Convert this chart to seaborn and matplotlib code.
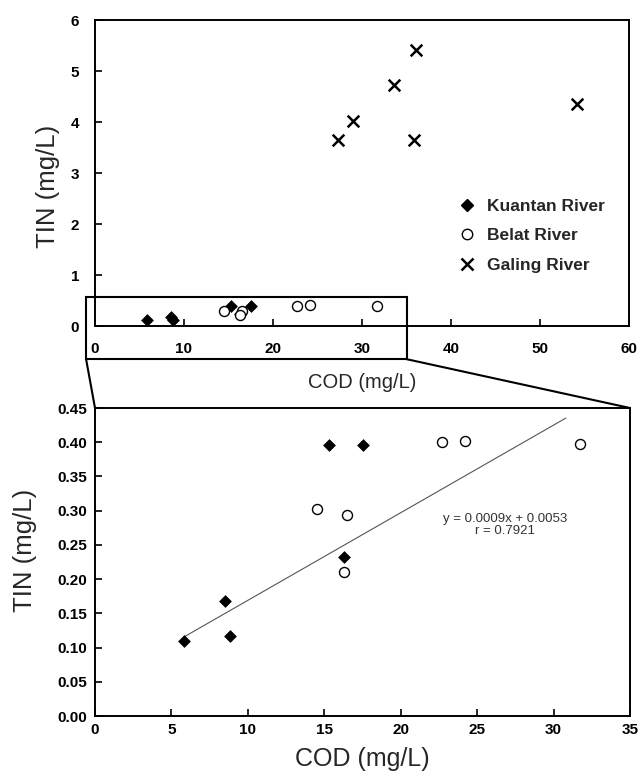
import numpy as np
import pandas as pd
import matplotlib
matplotlib.use('Agg')
import matplotlib.pyplot as plt
import seaborn as sns
from matplotlib.lines import Line2D
from matplotlib.patches import Rectangle, ConnectionPatch

# data (COD vs TIN, mg/L)
kuantan_cod = [5.8, 8.5, 8.8, 15.3, 17.5, 16.3]
kuantan_tin = [0.110, 0.168, 0.117, 0.396, 0.396, 0.232]
belat_cod = [14.5, 16.5, 16.3, 22.7, 24.2, 31.7]
belat_tin = [0.303, 0.294, 0.210, 0.401, 0.402, 0.398]
galing_cod = [27.3, 29.0, 33.6, 36.1, 35.8, 54.2]
galing_tin = [3.65, 4.02, 4.72, 5.42, 3.65, 4.35]

rivers = ['Kuantan River', 'Belat River', 'Galing River']

# trend line as drawn in the inset (slope / intercept / x range)
trend_slope = 0.0128
trend_intercept = 0.041
trend_x = [5.8, 30.8]
trend_label = 'y = 0.0009x + 0.0053\nr = 0.7921'

df = pd.concat([
    pd.DataFrame({'COD': kuantan_cod, 'TIN': kuantan_tin, 'River': rivers[0]}),
    pd.DataFrame({'COD': belat_cod, 'TIN': belat_tin, 'River': rivers[1]}),
    pd.DataFrame({'COD': galing_cod, 'TIN': galing_tin, 'River': rivers[2]}),
], ignore_index=True)

sns.set_theme(style='ticks')
plt.rcParams['font.family'] = ['Liberation Sans', 'DejaVu Sans']

styles = {
    'Kuantan River': dict(marker='D', s=36, color='black', edgecolor='black', linewidth=0.5),
    'Belat River': dict(marker='o', s=52, facecolor='white', edgecolor='black', linewidth=1.0),
    'Galing River': dict(marker='x', s=70, color='black', linewidth=1.8),
}

W, H = 643, 771
fig = plt.figure(figsize=(W / 100, H / 100), dpi=100)
ax_top = fig.add_axes([95 / W, 1 - 326 / H, 534 / W, 306 / H])
ax_bot = fig.add_axes([95 / W, 1 - 716 / H, 535 / W, 308 / H])


def draw_points(ax, data):
    for river in rivers:
        sub = data[data['River'] == river]
        if len(sub) == 0:
            continue
        sns.scatterplot(data=sub, x='COD', y='TIN', ax=ax, legend=False,
                        clip_on=False, zorder=3, **styles[river])


def style_axes(ax, pad_x, pad_y):
    for sp in ax.spines.values():
        sp.set_visible(True)
        sp.set_linewidth(1.4)
        sp.set_color('black')
    ax.tick_params(direction='in', length=5, width=1.2, colors='black',
                   labelsize=11, top=False, right=False)
    ax.tick_params(axis='x', pad=pad_x)
    ax.tick_params(axis='y', pad=pad_y)
    for lab in ax.get_xticklabels() + ax.get_yticklabels():
        lab.set_fontweight('bold')


# top panel: all three rivers
draw_points(ax_top, df)
ax_top.set_xlim(0, 60)
ax_top.set_ylim(0, 6)
ax_top.set_xticks(np.arange(0, 61, 10))
ax_top.set_yticks(np.arange(0, 7, 1))
ax_top.set_xlabel('COD (mg/L)', fontsize=14.5, labelpad=12)
ax_top.set_ylabel('TIN (mg/L)', fontsize=18.5)
ax_top.yaxis.set_label_coords(-0.066, 0.457)
style_axes(ax_top, 11.5, 11.5)

handles = [Line2D([], [], linestyle='none', marker='D', markersize=6.5,
                  color='black'),
           Line2D([], [], linestyle='none', marker='o', markersize=7.5,
                  markerfacecolor='white', markeredgecolor='black', markeredgewidth=1.0),
           Line2D([], [], linestyle='none', marker='x', markersize=8.5,
                  color='black', markeredgewidth=1.8)]
ax_top.legend(handles, rivers, loc='center left', bbox_to_anchor=(0.68, 0.295),
              frameon=False, prop={'weight': 'bold', 'size': 12.5},
              handlelength=1.0, handletextpad=0.65, labelspacing=0.82,
              borderpad=0, borderaxespad=0)

# zoom rectangle around the low-TIN region
rect = Rectangle((-1, -0.65), 36, 1.22, transform=ax_top.transData, fill=False,
                 edgecolor='black', linewidth=1.5, clip_on=False, zorder=5)
ax_top.add_patch(rect)

# bottom panel: Kuantan and Belat only
low = df[df['River'] != 'Galing River']
draw_points(ax_bot, low)
xs = np.array(trend_x)
ax_bot.plot(xs, trend_slope * xs + trend_intercept, color='#555555', linewidth=0.8, zorder=2)
ax_bot.text(26.8, 0.279, trend_label, ha='center', va='center', fontsize=9.5,
            color='#333333', linespacing=1.0)
ax_bot.set_xlim(0, 35)
ax_bot.set_ylim(0, 0.45)
ax_bot.set_xticks(np.arange(0, 36, 5))
ax_bot.set_yticks(np.arange(0, 0.451, 0.05))
ax_bot.set_yticklabels([f'{v:.2f}' for v in np.arange(0, 0.451, 0.05)])
ax_bot.set_xlabel('COD (mg/L)', fontsize=18, labelpad=7)
ax_bot.set_ylabel('TIN (mg/L)', fontsize=18.5)
ax_bot.yaxis.set_label_coords(-0.108, 0.539)
style_axes(ax_bot, 5, 6)

# connector lines from the rectangle to the inset
for xa, xb in [(-1, 0), (35, 35)]:
    con = ConnectionPatch(xyA=(xa, -0.65), coordsA=ax_top.transData,
                          xyB=(xb, 0.45), coordsB=ax_bot.transData,
                          color='black', linewidth=1.5)
    fig.add_artist(con)

fig.savefig('out.png', dpi=100)
